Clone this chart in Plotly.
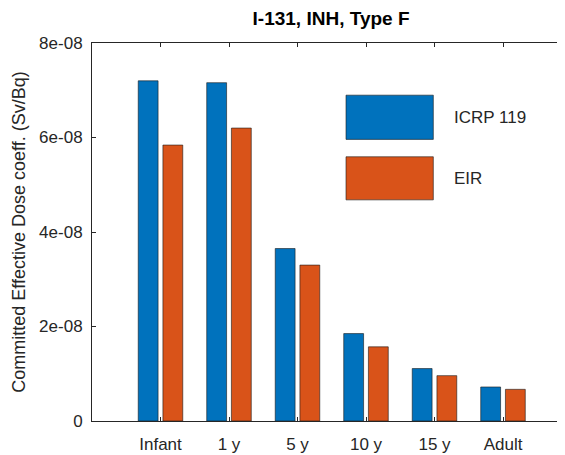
import plotly.graph_objects as go

categories = ["Infant", "1 y", "5 y", "10 y", "15 y", "Adult"]
icrp119 = [7.20e-8, 7.16e-8, 3.65e-8, 1.85e-8, 1.11e-8, 0.72e-8]
eir = [5.84e-8, 6.20e-8, 3.30e-8, 1.57e-8, 0.96e-8, 0.67e-8]
series_names = ["ICRP 119", "EIR"]
series_colors = ["#0072BD", "#D95319"]
y_tickvals = [0, 2e-8, 4e-8, 6e-8, 8e-8]
y_ticktext = ["0", "2e-08", "4e-08", "6e-08", "8e-08"]
title_text = "I-131, INH, Type F"
y_title = "Committed Effective Dose coeff. (Sv/Bq)"

FONT = "Liberation Sans, Arial, Helvetica, sans-serif"
AX = "#262626"

fig = go.Figure()
for name, vals, col in zip(series_names, [icrp119, eir], series_colors):
    fig.add_trace(go.Bar(
        x=list(range(len(categories))), y=vals, name=name,
        marker=dict(color=col, line=dict(color="#1a1a1a", width=0.6)),
        showlegend=False,
    ))

# custom legend (large MATLAB-style swatches)
box_x0, box_x1, txt_x = 0.537, 0.7216, 0.7605
rows = [(0.862, 0.745), (0.699, 0.585)]
for (y1, y0), name, col in zip(rows, series_names, series_colors):
    fig.add_shape(type="rect", xref="paper", yref="paper",
                  x0=box_x0, x1=box_x1, y0=y0, y1=y1,
                  fillcolor=col, line=dict(color="#1a1a1a", width=0.6))
    fig.add_annotation(xref="paper", yref="paper", x=txt_x, y=(y0 + y1) / 2,
                       text=name, showarrow=False, xanchor="left", yanchor="middle",
                       font=dict(family=FONT, size=17, color=AX))

fig.update_layout(
    width=557, height=447,
    margin=dict(l=84, r=0, t=35, b=34),
    paper_bgcolor="white", plot_bgcolor="white",
    barmode="group", bargap=0.279, bargroupgap=0.196,
    font=dict(family=FONT, size=17, color=AX),
    title=dict(text="<b>" + title_text + "</b>", x=0.58, xref="container",
               xanchor="center", y=0.9765, yref="container", yanchor="middle",
               font=dict(family=FONT, size=19, color="black")),
    xaxis=dict(
        tickvals=list(range(len(categories))), ticktext=categories,
        range=[-1, 5.905], showline=True, linecolor=AX, linewidth=1,
        mirror="ticks", ticks="inside", ticklen=4, tickcolor=AX,
        showgrid=False, zeroline=False, tickfont=dict(size=17, color=AX),
        ticklabelstandoff=8,
    ),
    yaxis=dict(
        tickvals=y_tickvals, ticktext=y_ticktext, range=[0, 8e-8],
        showline=True, linecolor=AX, linewidth=1, mirror=False,
        ticks="inside", ticklen=4, tickcolor=AX,
        showgrid=False, zeroline=False, tickfont=dict(size=17, color=AX),
        ticklabelstandoff=5,
        title=dict(text=y_title, font=dict(size=18, color=AX), standoff=8),
    ),
)

fig.write_html("out.html")
